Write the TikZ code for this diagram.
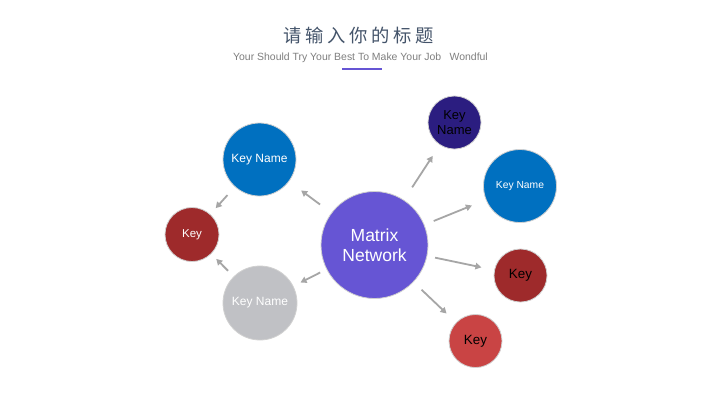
\documentclass[tikz,border=0pt]{standalone}
\usepackage{fontspec}
\setmainfont{Liberation Sans}
\newfontfamily\cjk[LetterSpace=20]{Noto Sans CJK SC}
\usetikzlibrary{arrows.meta}
\definecolor{cpurple}{HTML}{6655D4}
\definecolor{cblue}{HTML}{0070C0}
\definecolor{cdred}{HTML}{9E2A2B}
\definecolor{cgray}{HTML}{C0C1C5}
\definecolor{cnavy}{HTML}{2B1D80}
\definecolor{clred}{HTML}{C94444}
\definecolor{ctitle}{HTML}{44546A}
\definecolor{csub}{HTML}{7F7F7F}
\definecolor{carrow}{HTML}{A6A6A6}
\definecolor{cborder}{HTML}{D0D0D0}
\begin{document}
\begin{tikzpicture}[x=1pt,y=-1pt,
  bubble/.style={circle,draw=cborder,line width=0.8pt,inner sep=0pt,align=center},
  arr/.style={draw=carrow,line width=1.8pt,-{Triangle[length=6pt,width=6.5pt]}}]
\useasboundingbox[fill=white] (0,0) rectangle (721,405);
% title
\node[font=\cjk\fontsize{18.3}{20}\selectfont,text=ctitle] (title) at (359,35.5) {请输入你的标题};
\node[font=\fontsize{10.45}{12}\selectfont,text=csub] (sub) at (360.5,57.5) {Your Should Try Your Best To Make Your Job\hspace{0.8em}Wondful};
\coordinate (ul1) at (342,69);
\coordinate (ul2) at (382,69);
\draw[cpurple,line width=2pt] (ul1) -- (ul2);
% bubbles
\node[bubble,fill=cpurple,minimum size=107pt,text=white,font=\fontsize{17.5}{19.5}\selectfont] (c) at (374.5,245)
  {Matrix\\Network};
\node[bubble,fill=cblue,minimum size=73pt,text=white,font=\fontsize{12}{14}\selectfont] (b1) at (259.5,159.5)
  {Key Name};
\node[bubble,fill=cdred,minimum size=54pt,text=white,font=\fontsize{11.5}{13}\selectfont] (k1) at (192,234.5)
  {Key};
\node[bubble,fill=cgray,minimum size=74pt,text=white,font=\fontsize{12}{14}\selectfont] (g) at (260,303)
  {Key Name};
\node[bubble,fill=cnavy,minimum size=53pt,text=black,font=\fontsize{13}{15}\selectfont] (n) at (454.5,122.5)
  {Key\\Name};
\node[bubble,fill=cblue,minimum size=73pt,text=white,font=\fontsize{10.3}{12}\selectfont] (b2) at (520,186)
  {Key Name};
\node[bubble,fill=cdred,minimum size=53pt,text=black,font=\fontsize{13.4}{15}\selectfont] (k2) at (520.5,275.5)
  {Key};
\node[bubble,fill=clred,minimum size=53pt,text=black,font=\fontsize{13.4}{15}\selectfont] (k3) at (475.5,341)
  {Key};
% arrows
\draw[arr,shorten <=14pt,shorten >=15pt] (c) -- (b1);
\draw[arr,shorten <=11pt,shorten >=8pt] (b1) -- (k1);
\draw[arr,shorten <=8pt,shorten >=7pt] (g) -- (k1);
\draw[arr,shorten <=7pt,shorten >=8pt] (c) -- (g);
\draw[arr,shorten <=15pt,shorten >=13pt] (c) -- (n);
\draw[arr,shorten <=10pt,shorten >=15pt] (c) -- (b2);
\draw[arr,shorten <=8pt,shorten >=13pt] (c) -- (k2);
\draw[arr,shorten <=11pt,shorten >=13pt] (c) -- (k3);
\end{tikzpicture}
\end{document}
